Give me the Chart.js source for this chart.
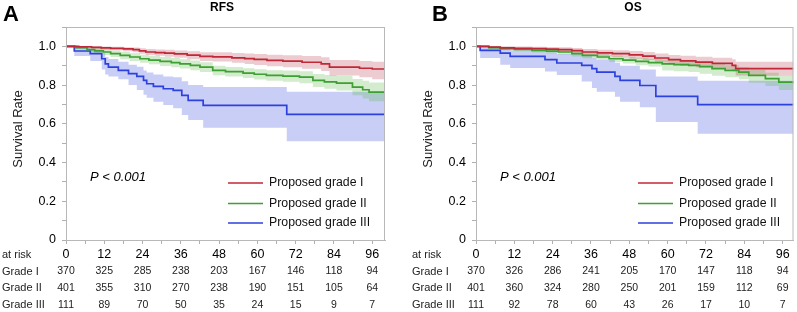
<!DOCTYPE html>
<html>
<head>
<meta charset="utf-8">
<script src="https://cdn.jsdelivr.net/npm/chart.js@4.4.0/dist/chart.umd.min.js"></script>
<style>
body { margin: 0; background: #fff; width: 797px; height: 312px; position: relative; overflow: hidden; }
canvas { position: absolute; top: 0; }
</style>
</head>
<body>
<canvas id="rfsChart" width="399" height="312" style="left:0px"></canvas>
<canvas id="osChart" width="397" height="312" style="left:400px"></canvas>
<script>
// tick labels and table text
const xTicks = [0, 6, 12, 18, 24, 30, 36, 42, 48, 54, 60, 66, 72, 78, 84, 90, 96];
const riskTimes = [0, 12, 24, 36, 48, 60, 72, 84, 96];
const groupNames = ['Proposed grade I', 'Proposed grade II', 'Proposed grade III'];
const rowNames = ['Grade I', 'Grade II', 'Grade III'];

// RFS - at risk
const rfsRisk1 = [370, 325, 285, 238, 203, 167, 146, 118, 94];
const rfsRisk2 = [401, 355, 310, 270, 238, 190, 151, 105, 64];
const rfsRisk3 = [111, 89, 70, 50, 35, 24, 15, 9, 7];

// OS - at risk
const osRisk1 = [370, 326, 286, 241, 205, 170, 147, 118, 94];
const osRisk2 = [401, 360, 324, 280, 250, 201, 159, 112, 69];
const osRisk3 = [111, 92, 78, 60, 43, 26, 17, 10, 7];

// RFS curves (months, survival, upper / lower CI)
const rfsT1 = [0, 4, 8, 11, 14, 18, 21, 23, 25, 28, 31, 34, 38, 42, 46, 52, 56, 59, 63, 68, 74, 80, 82.6, 92, 96, 100];
const rfsS1 = [1, .998, .995, .992, .99, .987, .983, .977, .971, .968, .965, .961, .955, .948, .946, .941, .937, .933, .928, .924, .918, .91, .893, .887, .883, .883];
const rfsU1 = [1, 1, 1, .999, .998, .996, .994, .99, .986, .984, .982, .979, .975, .97, .969, .966, .963, .96, .957, .954, .95, .944, .93, .925, .921, .921];
const rfsL1 = [1, .993, .988, .983, .98, .975, .97, .962, .955, .951, .946, .941, .934, .925, .922, .915, .909, .904, .897, .892, .884, .873, .85, .84, .83, .826];

const rfsT2 = [0, 3, 6.6, 9, 11.7, 14, 17, 20, 23.2, 26, 29.5, 33, 35.7, 39, 42, 46, 50, 55.5, 59, 62.8, 68, 73.2, 77.4, 81, 84.8, 89.8, 93, 95, 100];
const rfsS2 = [1, .993, .983, .977, .971, .962, .953, .945, .936, .929, .922, .916, .91, .902, .893, .876, .87, .862, .856, .85, .846, .841, .824, .817, .81, .79, .776, .764, .76];
const rfsU2 = [1, .999, .995, .991, .987, .979, .972, .965, .957, .951, .945, .94, .934, .927, .918, .9, .894, .887, .882, .877, .875, .872, .857, .852, .848, .832, .822, .814, .812];
const rfsL2 = [1, .987, .971, .963, .955, .945, .934, .925, .915, .907, .899, .892, .886, .877, .868, .851, .845, .836, .829, .822, .817, .81, .79, .781, .772, .748, .731, .716, .69];

const rfsT3 = [0, 2.6, 7.6, 11.2, 12.3, 13.3, 16.4, 19.6, 22.2, 24.3, 25.3, 27.4, 30.5, 33.6, 36.3, 38.3, 43, 69.2, 100];
const rfsS3 = [1, .976, .962, .936, .91, .893, .876, .859, .845, .824, .807, .793, .781, .773, .747, .721, .695, .649, .649];
const rfsU3 = [1, .998, .985, .965, .945, .935, .92, .905, .895, .875, .865, .855, .845, .84, .82, .80, .79, .766, .766];
const rfsL3 = [1, .95, .925, .88, .855, .845, .83, .80, .775, .75, .735, .714, .697, .68, .645, .62, .58, .51, .51];

// OS curves
const osT1 = [0, 4, 7.6, 12, 17.5, 22, 25.8, 30, 33.3, 38, 42.7, 48, 52.2, 56, 60.3, 64, 68.8, 74, 80.2, 81.3, 90, 99.4];
const osS1 = [1, .996, .992, .99, .988, .986, .983, .978, .971, .966, .962, .956, .95, .94, .931, .925, .919, .912, .902, .885, .885, .885];
const osU1 = [1, 1, 1, .999, .998, .997, .995, .992, .987, .983, .98, .976, .971, .963, .956, .951, .946, .941, .933, .92, .921, .922];
const osL1 = [1, .99, .984, .981, .978, .975, .971, .964, .955, .949, .944, .936, .929, .917, .906, .899, .892, .883, .871, .85, .848, .845];

const osT2 = [0, 4, 7.6, 12, 17.5, 22, 25.8, 30, 33.3, 38, 41.7, 46, 50, 54, 58.3, 62, 66.6, 70, 73.9, 78, 82.3, 85.4, 90.6, 94.8, 99.4];
const osS2 = [1, .994, .988, .984, .979, .975, .971, .962, .953, .945, .936, .929, .922, .916, .91, .906, .902, .895, .885, .876, .867, .85, .833, .815, .81];
const osU2 = [1, .999, .996, .993, .99, .987, .984, .976, .968, .961, .953, .947, .941, .936, .931, .928, .925, .918, .91, .902, .894, .879, .864, .848, .845];
const osL2 = [1, .988, .98, .975, .968, .963, .958, .948, .938, .929, .919, .911, .903, .896, .875, .871, .867, .858, .848, .84, .83, .812, .795, .775, .75];

const osT3 = [0, 1.3, 7.6, 10.7, 21.6, 25.3, 33.1, 36.3, 37.8, 43.5, 45.1, 51.3, 56.3, 69.4, 99.4];
const osS3 = [1, .979, .965, .948, .931, .914, .902, .885, .867, .845, .824, .798, .742, .699, .699];
const osU3 = [1, .998, .99, .98, .97, .96, .952, .94, .93, .915, .9, .88, .845, .822, .822];
const osL3 = [1, .94, .905, .888, .87, .852, .818, .785, .766, .74, .714, .686, .609, .549, .549];

const lineColors = ['rgb(192,40,55)', 'rgb(60,160,50)', 'rgb(45,65,220)'];
const bandColors = ['rgba(180,50,70,0.25)', 'rgba(80,180,60,0.25)', 'rgba(100,115,230,0.35)'];
const FONT = "'Liberation Sans', Arial, sans-serif";
const NARROW = "'Liberation Sans Narrow', 'Liberation Sans', Arial, sans-serif";

function toPts(ts, vs) {
    return ts.map((t, i) => ({ x: t, y: vs[i] }));
}

function buildDatasets(groups) {
    const ds = [];
    groups.forEach((g, i) => {
        ds.push({ data: toPts(g.t, g.u), stepped: true, borderWidth: 0, pointRadius: 0, fill: '+1', backgroundColor: bandColors[i], order: 2 });
        ds.push({ data: toPts(g.t, g.l), stepped: true, borderWidth: 0, pointRadius: 0, fill: false, order: 2 });
    });
    groups.forEach((g, i) => {
        ds.push({ data: toPts(g.t, g.s), stepped: true, borderColor: lineColors[i], borderWidth: 1.7, pointRadius: 0, fill: false, order: 0 });
    });
    return ds;
}

// extra texts: panel letter, title, axis title, p value, legend, at-risk table
const decor = {
    id: 'decor',
    afterDraw(chart, args, o) {
        const ctx = chart.ctx;
        const a = chart.chartArea;
        const xs = chart.scales.x;
        ctx.save();
        // box round the plot
        ctx.strokeStyle = '#b8b8b8';
        ctx.lineWidth = 1;
        ctx.strokeRect(a.left + 0.5, a.top + 0.5, a.right - a.left - 1, a.bottom - a.top);

        ctx.fillStyle = '#000';
        ctx.textBaseline = 'alphabetic';
        ctx.textAlign = 'left';
        ctx.font = 'bold 22px ' + FONT;
        ctx.fillText(o.letter, o.letterX, 21);

        ctx.textAlign = 'center';
        ctx.textBaseline = 'middle';
        ctx.font = 'bold 12px ' + FONT;
        ctx.fillText(o.title, o.titleX, 8);

        ctx.save();
        ctx.translate(o.yTitleX, 129);
        ctx.rotate(-Math.PI / 2);
        ctx.font = '13px ' + FONT;
        ctx.fillStyle = '#222';
        ctx.fillText('Survival Rate', 0, 0);
        ctx.restore();

        ctx.textAlign = 'left';
        ctx.font = 'italic 13px ' + FONT;
        ctx.fillText('P < 0.001', a.left + 24, 177);

        // legend
        const legY = [183, 203.5, 223];
        ctx.font = '12.3px ' + FONT;
        groupNames.forEach((name, i) => {
            ctx.strokeStyle = lineColors[i];
            ctx.lineWidth = 1.7;
            ctx.beginPath();
            ctx.moveTo(a.left + 162, legY[i]);
            ctx.lineTo(a.left + 197, legY[i]);
            ctx.stroke();
            ctx.fillStyle = '#111';
            ctx.fillText(name, a.left + 203, legY[i]);
        });

        // at risk table
        const rowY = [255, 271.5, 288, 305];
        ctx.fillStyle = '#222';
        ctx.font = '11px ' + NARROW;
        ctx.fillText('at risk', o.rowX, rowY[0]);
        rowNames.forEach((n, i) => ctx.fillText(n, o.rowX, rowY[i + 1]));
        ctx.textAlign = 'center';
        ctx.font = '10.5px ' + NARROW;
        o.risk.forEach((row, i) => {
            row.forEach((v, j) => {
                ctx.fillText(String(v), xs.getPixelForValue(riskTimes[j]), rowY[i + 1]);
            });
        });
        ctx.restore();
    }
};

function makePanel(id, groups, xMax, yWidth, padRight, deco) {
    return new Chart(document.getElementById(id), {
        type: 'line',
        data: { datasets: buildDatasets(groups) },
        options: {
            responsive: false,
            animation: false,
            layout: { padding: { top: 27, right: padRight, left: 0, bottom: 0 } },
            plugins: {
                legend: { display: false },
                tooltip: { enabled: false },
                decor: deco
            },
            scales: {
                x: {
                    type: 'linear',
                    min: 0,
                    max: xMax,
                    grid: { drawOnChartArea: false, drawTicks: true, tickLength: 4, color: '#b0b0b0' },
                    border: { color: '#b8b8b8' },
                    ticks: {
                        autoSkip: false,
                        maxRotation: 0,
                        padding: 3,
                        color: '#000',
                        font: { size: 12.5, family: FONT },
                        callback: v => (v % 12 === 0 ? String(v) : '')
                    },
                    afterBuildTicks: s => { s.ticks = xTicks.map(v => ({ value: v })); },
                    afterFit: s => { s.height = 72; }
                },
                y: {
                    min: 0,
                    max: 1.1,
                    grid: { drawOnChartArea: false, drawTicks: true, tickLength: 4, color: '#b0b0b0' },
                    border: { color: '#b8b8b8' },
                    ticks: {
                        stepSize: 0.1,
                        padding: 6,
                        color: '#000',
                        font: { size: 12.5, family: FONT },
                        callback: v => {
                            const k = Math.round(v * 10);
                            if (k % 2 !== 0 || k > 10) return '';
                            return k === 0 ? '0' : (k / 10).toFixed(1);
                        }
                    },
                    afterFit: s => { s.width = yWidth; }
                }
            }
        },
        plugins: [decor]
    });
}

makePanel('rfsChart', [
    { t: rfsT1, s: rfsS1, u: rfsU1, l: rfsL1 },
    { t: rfsT2, s: rfsS2, u: rfsU2, l: rfsL2 },
    { t: rfsT3, s: rfsS3, u: rfsU3, l: rfsL3 }
], 100, 66, 14, {
    letter: 'A', letterX: 3, title: 'RFS', titleX: 222, yTitleX: 18, rowX: 2,
    risk: [rfsRisk1, rfsRisk2, rfsRisk3]
});

makePanel('osChart', [
    { t: osT1, s: osS1, u: osU1, l: osL1 },
    { t: osT2, s: osS2, u: osU2, l: osL2 },
    { t: osT3, s: osS3, u: osU3, l: osL3 }
], 99.4, 76, 3.5, {
    letter: 'B', letterX: 32, title: 'OS', titleX: 233, yTitleX: 28, rowX: 12,
    risk: [osRisk1, osRisk2, osRisk3]
});
</script>
</body>
</html>
